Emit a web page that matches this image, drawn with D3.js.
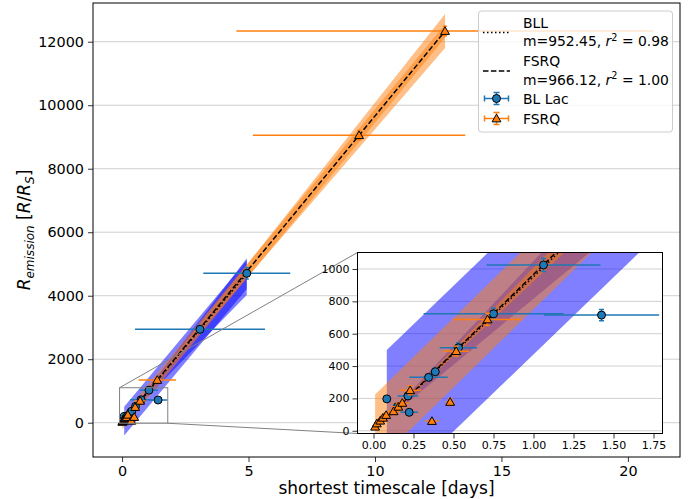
<!DOCTYPE html>
<html>
<head>
<meta charset="utf-8">
<script src="https://cdn.jsdelivr.net/npm/d3@7/dist/d3.min.js"></script>
<style>
body { margin: 0; background: #fff; }
text { font-family: "DejaVu Sans", sans-serif; fill: #000; }
</style>
</head>
<body>
<div id="chart"></div>
<script>
// BL Lac sources: timescale [days], R_emission [R/Rs]
var bllX    = [0.083, 0.15, 0.215, 0.223, 0.344, 0.386, 0.531, 0.75, 1.0625, 1.425, 3.08, 4.93];
var bllY    = [197, 149, 215, 114, 330, 365, 513, 723, 1025, 715, 2942, 4706];
var bllXerr = [0.02, 0.03, 0.065, 0.055, 0.12, 0.03, 0.117, 0.437, 0.355, 0.36, 2.57, 1.72];
var bllYerr = [12, 10, 14, 10, 20, 22, 30, 35, 40, 35, 120, 180];

// FSRQ sources
var fsrqX    = [0.01, 0.021, 0.042, 0.059, 0.079, 0.125, 0.155, 0.18, 0.229, 0.365, 0.479, 0.517, 0.7125, 1.39, 9.37, 12.77];
var fsrqY    = [25, 45, 62, 80, 97, 120, 148, 172, 250, 60, 178, 492, 688, 1345, 9055, 12337];
var fsrqXerr = [0.01, 0.015, 0.02, 0.025, 0.03, 0.035, 0.04, 0.04, 0.07, 0.045, 0.03, 0.08, 0.213, 0.74, 4.2, 8.25];
var fsrqYerr = [6, 8, 10, 12, 14, 16, 18, 20, 28, 10, 22, 30, 38, 60, 150, 150];

// fits: slope, slope range and offset range of the shaded bands
var bllFit  = {m: 952.45, r2: "0.98", mLo: 816, mHi: 1050, cLo: -480, cHi: 420};
var fsrqFit = {m: 966.12, r2: "1.00", mLo: 924, mHi: 1008, cLo: -215, cHi: 215};

var xTicks = [0, 5, 10, 15, 20];
var yTicks = [0, 2000, 4000, 6000, 8000, 10000, 12000];
var insetXTicks = [0, 0.25, 0.5, 0.75, 1.0, 1.25, 1.5, 1.75];
var insetYTicks = [0, 200, 400, 600, 800, 1000];

var blue = "#1f77b4", orange = "#ff7f0e";

var svg = d3.select("#chart").append("svg")
    .attr("width", 689)
    .attr("height", 499);

var main = {left: 93, top: 3, right: 680, bottom: 457};
var ins = {left: 357.5, top: 252.5, right: 662.5, bottom: 433.5};

var x = d3.scaleLinear().domain([-1.15, 22.06]).range([main.left, main.right]);
var y = d3.scaleLinear().domain([-1080, 13220]).range([main.bottom, main.top]);
var xi = d3.scaleLinear().domain([-0.1, 1.806]).range([ins.left, ins.right]);
var yi = d3.scaleLinear().domain([-17, 1102]).range([ins.bottom, ins.top]);

var defs = svg.append("defs");
function clip(id, box) {
    defs.append("clipPath").attr("id", id).append("rect")
        .attr("x", box.left).attr("y", box.top)
        .attr("width", box.right - box.left).attr("height", box.bottom - box.top);
}
clip("clipMain", main);
clip("clipInset", ins);

function toRows(xs, ys, xe, ye) {
    return xs.map(function (d, i) { return {x: d, y: ys[i], xe: xe[i], ye: ye[i]}; });
}
var bllRows = toRows(bllX, bllY, bllXerr, bllYerr);
var fsrqRows = toRows(fsrqX, fsrqY, fsrqXerr, fsrqYerr);

function drawPanel(g, sx, sy, cap) {
    // grid
    g.selectAll(".grid").data(sy === y ? yTicks : insetYTicks).enter().append("line")
        .attr("x1", sx.range()[0]).attr("x2", sx.range()[1])
        .attr("y1", function (d) { return sy(d); })
        .attr("y2", function (d) { return sy(d); })
        .attr("stroke", "#d0d0d0").attr("stroke-width", 1);

    var area = d3.area()
        .x(function (d) { return sx(d.x); })
        .y0(function (d) { return sy(d.lo); })
        .y1(function (d) { return sy(d.hi); });

    function bands(xs, fit, col) {
        var ext = d3.extent(xs);
        var wedge = ext.map(function (v) { return {x: v, lo: fit.mLo * v, hi: fit.mHi * v}; });
        var strip = ext.map(function (v) { return {x: v, lo: fit.m * v + fit.cLo, hi: fit.m * v + fit.cHi}; });
        g.append("path").attr("d", area(strip)).attr("fill", col).attr("fill-opacity", 0.5);
        g.append("path").attr("d", area(wedge)).attr("fill", col).attr("fill-opacity", 0.5);
    }
    bands(bllX, bllFit, "#0000ff");
    bands(fsrqX, fsrqFit, orange);

    function fitLine(xs, fit, dash) {
        var ext = d3.extent(xs);
        g.append("line")
            .attr("x1", sx(ext[0])).attr("y1", sy(fit.m * ext[0]))
            .attr("x2", sx(ext[1])).attr("y2", sy(fit.m * ext[1]))
            .attr("stroke", "#000").attr("stroke-width", 1.5)
            .attr("stroke-dasharray", dash);
    }
    fitLine(bllX, bllFit, "1.5,2.5");
    fitLine(fsrqX, fsrqFit, "5.5,2.4");

    function errorbars(rows, col) {
        var eg = g.append("g").attr("stroke", col).attr("stroke-width", 1.5);
        rows.forEach(function (d) {
            eg.append("line")
                .attr("x1", sx(d.x - d.xe)).attr("x2", sx(d.x + d.xe))
                .attr("y1", sy(d.y)).attr("y2", sy(d.y));
            eg.append("line")
                .attr("x1", sx(d.x)).attr("x2", sx(d.x))
                .attr("y1", sy(d.y - d.ye)).attr("y2", sy(d.y + d.ye));
            [d.y - d.ye, d.y + d.ye].forEach(function (v) {
                eg.append("line")
                    .attr("x1", sx(d.x) - cap).attr("x2", sx(d.x) + cap)
                    .attr("y1", sy(v)).attr("y2", sy(v));
            });
        });
    }
    errorbars(bllRows, blue);
    g.selectAll(".bll").data(bllRows).enter().append("circle")
        .attr("cx", function (d) { return sx(d.x); })
        .attr("cy", function (d) { return sy(d.y); })
        .attr("r", 4)
        .attr("fill", blue).attr("stroke", "#000").attr("stroke-width", 1);

    errorbars(fsrqRows, orange);
    var tri = d3.symbol().type(d3.symbolTriangle).size(34);
    g.selectAll(".fsrq").data(fsrqRows).enter().append("path")
        .attr("d", tri)
        .attr("transform", function (d) { return "translate(" + sx(d.x) + "," + (sy(d.y) + 0.8) + ")"; })
        .attr("fill", orange).attr("stroke", "#000").attr("stroke-width", 1);
}

// ---- main axes
var mainG = svg.append("g").attr("clip-path", "url(#clipMain)");
drawPanel(mainG, x, y, 2);

var xAxis = svg.append("g")
    .attr("transform", "translate(0," + main.bottom + ")")
    .call(d3.axisBottom(x).tickValues(xTicks).tickSize(5).tickPadding(4).tickFormat(d3.format("d")));
var yAxis = svg.append("g")
    .attr("transform", "translate(" + main.left + ",0)")
    .call(d3.axisLeft(y).tickValues(yTicks).tickSize(5).tickPadding(4).tickFormat(d3.format("d")));
[xAxis, yAxis].forEach(function (a) {
    a.select(".domain").remove();
    a.selectAll("text").attr("font-size", 14.4).attr("font-family", "DejaVu Sans").attr("fill", "#000");
    a.selectAll("line").attr("stroke", "#000").attr("stroke-width", 0.8);
});
svg.append("rect")
    .attr("x", main.left).attr("y", main.top)
    .attr("width", main.right - main.left).attr("height", main.bottom - main.top)
    .attr("fill", "none").attr("stroke", "#000").attr("stroke-width", 1);

svg.append("text")
    .attr("x", (main.left + main.right) / 2).attr("y", 494)
    .attr("text-anchor", "middle").attr("font-size", 17)
    .text("shortest timescale [days]");

var yl = svg.append("text")
    .attr("transform", "translate(30," + ((main.top + main.bottom) / 2) + ") rotate(-90)")
    .attr("text-anchor", "middle").attr("font-size", 17);
yl.append("tspan").attr("font-style", "italic").text("R");
yl.append("tspan").attr("font-style", "italic").attr("font-size", 12).attr("dy", 3.5).text("emission");
yl.append("tspan").attr("dy", -3.5).text(" [");
yl.append("tspan").attr("font-style", "italic").text("R");
yl.append("tspan").text("/");
yl.append("tspan").attr("font-style", "italic").text("R");
yl.append("tspan").attr("font-style", "italic").attr("font-size", 12).attr("dy", 3.5).text("S");
yl.append("tspan").attr("dy", -3.5).text("]");

// ---- zoom indicator
var zoomBox = {x0: xi.domain()[0], x1: xi.domain()[1], y0: yi.domain()[0], y1: yi.domain()[1]};
svg.append("rect")
    .attr("x", x(zoomBox.x0)).attr("y", y(zoomBox.y1))
    .attr("width", x(zoomBox.x1) - x(zoomBox.x0))
    .attr("height", y(zoomBox.y0) - y(zoomBox.y1))
    .attr("fill", "none").attr("stroke", "#808080").attr("stroke-width", 1);
svg.append("line")
    .attr("x1", x(zoomBox.x0)).attr("y1", y(zoomBox.y1))
    .attr("x2", ins.left).attr("y2", ins.top)
    .attr("stroke", "#808080").attr("stroke-width", 1);
svg.append("line")
    .attr("x1", x(zoomBox.x1)).attr("y1", y(zoomBox.y0))
    .attr("x2", ins.left).attr("y2", ins.bottom)
    .attr("stroke", "#808080").attr("stroke-width", 1);

// ---- inset axes
svg.append("rect")
    .attr("x", ins.left).attr("y", ins.top)
    .attr("width", ins.right - ins.left).attr("height", ins.bottom - ins.top)
    .attr("fill", "#fff");
var insG = svg.append("g").attr("clip-path", "url(#clipInset)");
drawPanel(insG, xi, yi, 2.5);

var xiAxis = svg.append("g")
    .attr("transform", "translate(0," + ins.bottom + ")")
    .call(d3.axisBottom(xi).tickValues(insetXTicks).tickSize(5).tickPadding(3).tickFormat(d3.format(".2f")));
var yiAxis = svg.append("g")
    .attr("transform", "translate(" + ins.left + ",0)")
    .call(d3.axisLeft(yi).tickValues(insetYTicks).tickSize(5).tickPadding(3).tickFormat(d3.format("d")));
[xiAxis, yiAxis].forEach(function (a) {
    a.select(".domain").remove();
    a.selectAll("text").attr("font-size", 11).attr("font-family", "DejaVu Sans").attr("fill", "#000");
    a.selectAll("line").attr("stroke", "#000").attr("stroke-width", 0.8);
});
svg.append("rect")
    .attr("x", ins.left).attr("y", ins.top)
    .attr("width", ins.right - ins.left).attr("height", ins.bottom - ins.top)
    .attr("fill", "none").attr("stroke", "#000").attr("stroke-width", 1);

// ---- legend
var lg = svg.append("g");
lg.append("rect")
    .attr("x", 478.5).attr("y", 11).attr("width", 194).attr("height", 121)
    .attr("rx", 3).attr("fill", "#fff").attr("fill-opacity", 0.8)
    .attr("stroke", "#cccccc").attr("stroke-width", 1);

function fitLabel(yTop, name, fit) {
    lg.append("text").attr("x", 523).attr("y", yTop).attr("font-size", 13.9).text(name);
    var t = lg.append("text").attr("x", 523).attr("y", yTop + 18.5).attr("font-size", 13.9);
    t.append("tspan").text("m=" + fit.m.toFixed(2) + ", ");
    t.append("tspan").attr("font-style", "italic").text("r");
    t.append("tspan").attr("font-size", 9.7).attr("dy", -5.5).text("2");
    t.append("tspan").attr("dy", 5.5).text(" = " + fit.r2);
}
lg.append("line").attr("x1", 483).attr("x2", 510).attr("y1", 32.5).attr("y2", 32.5)
    .attr("stroke", "#000").attr("stroke-width", 1.5).attr("stroke-dasharray", "1.5,2.5");
fitLabel(27.5, "BLL", bllFit);
lg.append("line").attr("x1", 483).attr("x2", 510).attr("y1", 71).attr("y2", 71)
    .attr("stroke", "#000").attr("stroke-width", 1.5).attr("stroke-dasharray", "5.5,2.4");
fitLabel(66, "FSRQ", fsrqFit);

function legendMarker(cy, col, shape) {
    var cx = 496.5;
    var m = lg.append("g").attr("stroke", col).attr("stroke-width", 1.5);
    m.append("line").attr("x1", cx - 12).attr("x2", cx + 12).attr("y1", cy).attr("y2", cy);
    m.append("line").attr("x1", cx).attr("x2", cx).attr("y1", cy - 6).attr("y2", cy + 6);
    [cx - 12, cx + 12].forEach(function (v) {
        m.append("line").attr("x1", v).attr("x2", v).attr("y1", cy - 3).attr("y2", cy + 3);
    });
    [cy - 6, cy + 6].forEach(function (v) {
        m.append("line").attr("x1", cx - 3).attr("x2", cx + 3).attr("y1", v).attr("y2", v);
    });
    if (shape === "circle") {
        lg.append("circle").attr("cx", cx).attr("cy", cy).attr("r", 4)
            .attr("fill", col).attr("stroke", "#000");
    } else {
        lg.append("path").attr("d", d3.symbol().type(d3.symbolTriangle).size(34))
            .attr("transform", "translate(" + cx + "," + (cy + 0.8) + ")")
            .attr("fill", col).attr("stroke", "#000");
    }
}
legendMarker(98.5, blue, "circle");
lg.append("text").attr("x", 523).attr("y", 103.5).attr("font-size", 13.9).text("BL Lac");
legendMarker(118.5, orange, "triangle");
lg.append("text").attr("x", 523).attr("y", 123.5).attr("font-size", 13.9).text("FSRQ");
</script>
</body>
</html>
